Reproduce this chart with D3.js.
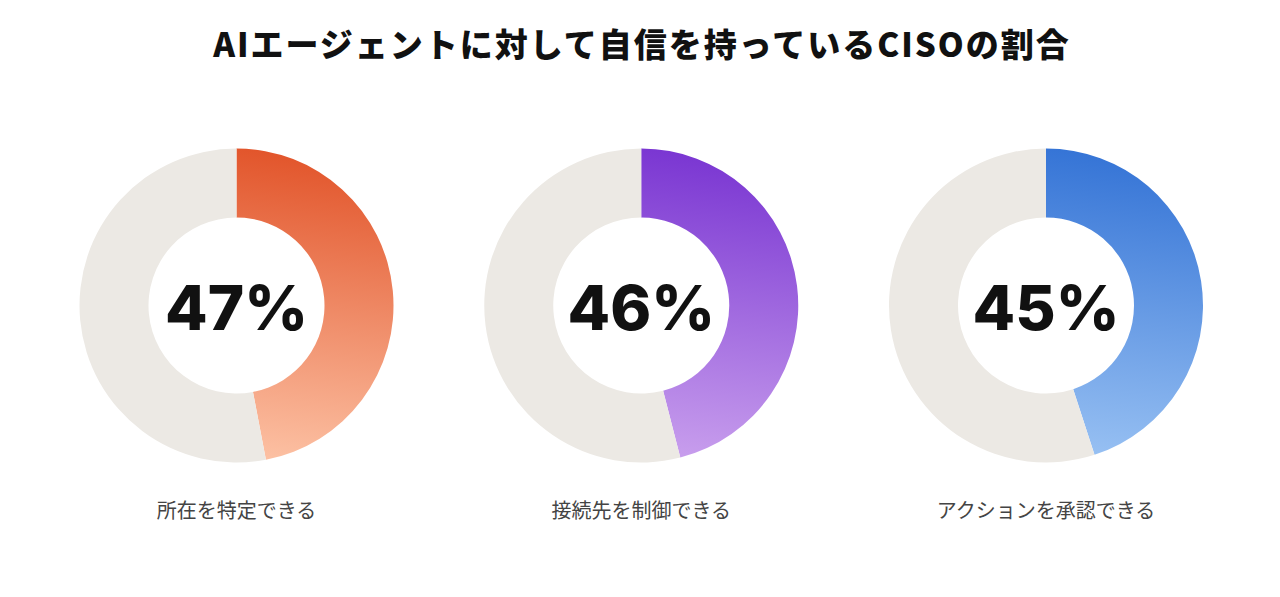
<!DOCTYPE html>
<html><head><meta charset="utf-8">
<script src="https://cdn.jsdelivr.net/npm/d3@7/dist/d3.min.js"></script>
<style>
html,body{margin:0;padding:0;background:#fff;}
svg{display:block;}
</style></head>
<body>
<svg id="chart" width="1280" height="597"></svg>
<script>
const title = "AIエージェントに対して自信を持っているCISOの割合";
const categories = ["所在を特定できる", "接続先を制御できる", "アクションを承認できる"];
const values = [47, 46, 45];
const colorsTop = ["#e2552b", "#7a36d2", "#3574d6"];
const colorsBottom = ["#fdc4a7", "#cba2ee", "#9cc4f4"];
const trackColor = "#ece9e4";

const svg = d3.select("#chart");
const W = 1280, H = 597;
const R = 157, r = 88;
const cy = 305.5;
const x = d3.scalePoint().domain(categories).range([236.5, 1046]);

svg.append("text")
  .attr("x", W/2 + 2).attr("y", 57)
  .attr("text-anchor", "middle")
  .attr("font-family", "'Noto Sans CJK JP', 'Noto Sans', sans-serif")
  .attr("font-weight", 900)
  .attr("font-size", 33)
  .attr("letter-spacing", "2px")
  .attr("fill", "#111")
  .text(title);

const defs = svg.append("defs");
const arc = d3.arc().innerRadius(r).outerRadius(R);
const pie = d3.pie().sort(null).value(d => d);

categories.forEach((c, i) => {
  const cx = x(c);
  const gid = "grad" + i;
  const g = defs.append("linearGradient").attr("id", gid)
    .attr("gradientUnits", "userSpaceOnUse")
    .attr("x1", 0.1*R).attr("y1", -R)
    .attr("x2", -0.15*R).attr("y2", R);
  g.append("stop").attr("offset", "0%").attr("stop-color", colorsTop[i]);
  g.append("stop").attr("offset", "100%").attr("stop-color", colorsBottom[i]);

  const grp = svg.append("g").attr("transform", `translate(${cx},${cy})`);
  const arcs = pie([values[i], 100 - values[i]]);
  grp.selectAll("path").data(arcs).join("path")
    .attr("d", arc)
    .attr("fill", (d, j) => j === 0 ? `url(#${gid})` : trackColor);

  grp.append("text")
    .attr("x", 0).attr("y", 24)
    .attr("text-anchor", "middle")
    .attr("font-family", "Inter, 'Noto Sans', sans-serif")
    .attr("font-weight", 800)
    .attr("font-size", 62)
    .attr("fill", "#111")
    .text(values[i] + "%");

  svg.append("text")
    .attr("x", cx).attr("y", 518)
    .attr("text-anchor", "middle")
    .attr("font-family", "'Noto Sans CJK JP', 'Noto Sans', sans-serif")
    .attr("font-size", 20)
    .attr("fill", "#444")
    .text(c);
});
</script>
</body></html>
